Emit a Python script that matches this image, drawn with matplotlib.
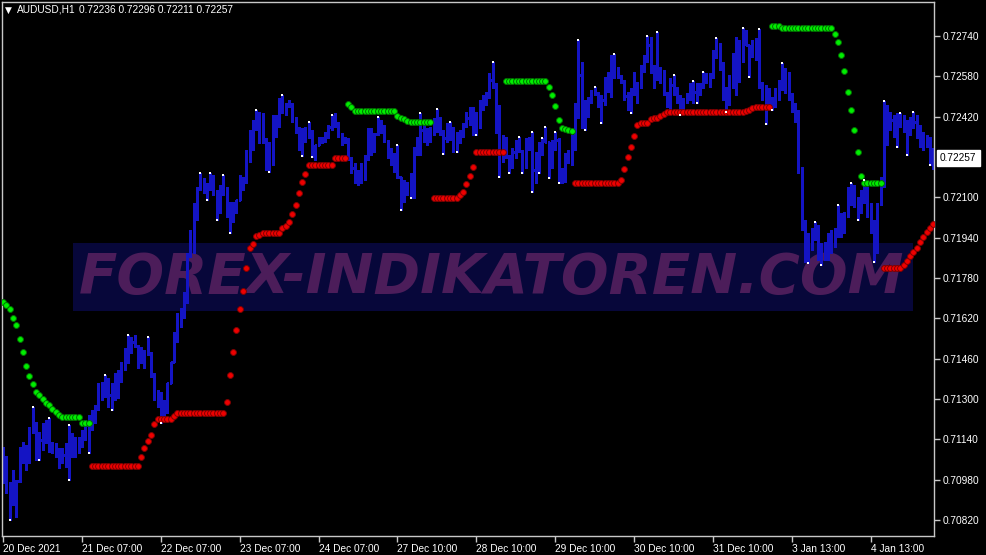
import matplotlib.pyplot as plt
from matplotlib.patches import Rectangle
from matplotlib.transforms import blended_transform_factory

plt.rcParams['font.family'] = ['Liberation Sans', 'DejaVu Sans']

# AUDUSD H1 bars
highs = [
    0.71108, 0.71073, 0.70969, 0.71017, 0.70977, 0.71108, 0.71128, 0.71116, 0.71188, 0.71267,
    0.71208, 0.71168, 0.71204, 0.71216, 0.71224, 0.71128, 0.71124, 0.71104, 0.71104, 0.71124,
    0.71196, 0.71164, 0.71148, 0.71148, 0.71176, 0.71216, 0.71235, 0.71255, 0.71275, 0.71362,
    0.71366, 0.71394, 0.71382, 0.71362, 0.71402, 0.71414, 0.71446, 0.71501, 0.71553, 0.71545,
    0.71553, 0.71513, 0.71505, 0.71494, 0.71545, 0.71486, 0.71402, 0.71335, 0.71327, 0.71295,
    0.71362, 0.71446, 0.71565, 0.71640, 0.71660, 0.71724, 0.71879, 0.71970, 0.72077, 0.72141,
    0.72196, 0.72176, 0.72156, 0.72196, 0.72188, 0.72129, 0.72149, 0.72188, 0.72141, 0.72081,
    0.72081, 0.72089, 0.72188, 0.72180, 0.72288, 0.72367, 0.72407, 0.72446, 0.72438, 0.72434,
    0.72335, 0.72319, 0.72426, 0.72426, 0.72494, 0.72506, 0.72474, 0.72486, 0.72474, 0.72419,
    0.72379, 0.72375, 0.72379, 0.72399, 0.72367, 0.72307, 0.72339, 0.72339, 0.72359, 0.72387,
    0.72426, 0.72434, 0.72399, 0.72355, 0.72339, 0.72335, 0.72260, 0.72236, 0.72208, 0.72236,
    0.72268, 0.72375, 0.72375, 0.72355, 0.72419, 0.72407, 0.72387, 0.72327, 0.72295, 0.72276,
    0.72307, 0.72180, 0.72168, 0.72160, 0.72196, 0.72299, 0.72339, 0.72434, 0.72395, 0.72375,
    0.72379, 0.72415, 0.72450, 0.72419, 0.72367, 0.72395, 0.72399, 0.72379, 0.72359, 0.72367,
    0.72395, 0.72438, 0.72458, 0.72458, 0.72438, 0.72486, 0.72506, 0.72518, 0.72593, 0.72637,
    0.72553, 0.72466, 0.72347, 0.72339, 0.72268, 0.72295, 0.72327, 0.72339, 0.72288, 0.72335,
    0.72339, 0.72359, 0.72280, 0.72319, 0.72335, 0.72379, 0.72319, 0.72327, 0.72359, 0.72335,
    0.72216, 0.72276, 0.72288, 0.72347, 0.72474, 0.72724, 0.72637, 0.72486, 0.72498, 0.72526,
    0.72538, 0.72518, 0.72506, 0.72577, 0.72597, 0.72665, 0.72669, 0.72617, 0.72585, 0.72565,
    0.72518, 0.72534, 0.72597, 0.72557, 0.72625, 0.72665, 0.72740, 0.72736, 0.72625, 0.72756,
    0.72617, 0.72605, 0.72518, 0.72573, 0.72585, 0.72538, 0.72506, 0.72494, 0.72514, 0.72553,
    0.72561, 0.72553, 0.72553, 0.72597, 0.72593, 0.72593, 0.72685, 0.72732, 0.72712, 0.72637,
    0.72538, 0.72585, 0.72673, 0.72736, 0.72724, 0.72772, 0.72764, 0.72704, 0.72724, 0.72732,
    0.72768, 0.72557, 0.72546, 0.72534, 0.72498, 0.72534, 0.72565, 0.72633, 0.72613, 0.72597,
    0.72514, 0.72474, 0.72446, 0.72220, 0.72010, 0.71958, 0.71978, 0.72002, 0.71990, 0.71918,
    0.71922, 0.71958, 0.71970, 0.71978, 0.72069, 0.72037, 0.72041, 0.72141, 0.72156, 0.72149,
    0.72101, 0.72129, 0.72168, 0.72141, 0.72077, 0.72010, 0.72077, 0.72180, 0.72482, 0.72466,
    0.72438, 0.72426, 0.72434, 0.72434, 0.72426, 0.72407, 0.72419, 0.72438, 0.72426, 0.72387,
    0.72359, 0.72347, 0.72339, 0.72296,
]
lows = [
    0.70965, 0.70926, 0.70819, 0.70878, 0.70831, 0.70969, 0.71045, 0.71017, 0.71045, 0.71164,
    0.71057, 0.71057, 0.71097, 0.71124, 0.71089, 0.71085, 0.71069, 0.71025, 0.71045, 0.71029,
    0.70977, 0.71069, 0.71069, 0.71085, 0.71108, 0.71136, 0.71085, 0.71176, 0.71204, 0.71255,
    0.71295, 0.71307, 0.71267, 0.71255, 0.71295, 0.71303, 0.71366, 0.71414, 0.71442, 0.71482,
    0.71505, 0.71422, 0.71442, 0.71422, 0.71474, 0.71386, 0.71295, 0.71267, 0.71204, 0.71216,
    0.71243, 0.71362, 0.71446, 0.71525, 0.71585, 0.71621, 0.71680, 0.71863, 0.71879, 0.72010,
    0.72129, 0.72117, 0.72089, 0.72129, 0.72109, 0.72010, 0.72037, 0.72109, 0.72022, 0.71958,
    0.72002, 0.72037, 0.72089, 0.72129, 0.72156, 0.72240, 0.72288, 0.72367, 0.72315, 0.72315,
    0.72208, 0.72200, 0.72228, 0.72339, 0.72379, 0.72434, 0.72426, 0.72458, 0.72399, 0.72355,
    0.72288, 0.72264, 0.72319, 0.72335, 0.72260, 0.72248, 0.72307, 0.72315, 0.72319, 0.72335,
    0.72367, 0.72379, 0.72339, 0.72307, 0.72315, 0.72248, 0.72196, 0.72156, 0.72149, 0.72156,
    0.72168, 0.72248, 0.72268, 0.72280, 0.72347, 0.72355, 0.72319, 0.72256, 0.72228, 0.72200,
    0.72176, 0.72049, 0.72081, 0.72109, 0.72097, 0.72097, 0.72268, 0.72268, 0.72319, 0.72307,
    0.72319, 0.72347, 0.72359, 0.72347, 0.72272, 0.72319, 0.72327, 0.72280, 0.72280, 0.72315,
    0.72339, 0.72379, 0.72387, 0.72347, 0.72347, 0.72375, 0.72446, 0.72466, 0.72494, 0.72534,
    0.72355, 0.72180, 0.72240, 0.72256, 0.72196, 0.72216, 0.72256, 0.72280, 0.72196, 0.72216,
    0.72288, 0.72121, 0.72156, 0.72196, 0.72268, 0.72319, 0.72176, 0.72216, 0.72288, 0.72156,
    0.72156, 0.72160, 0.72236, 0.72228, 0.72288, 0.72415, 0.72375, 0.72367, 0.72419, 0.72474,
    0.72506, 0.72458, 0.72395, 0.72466, 0.72518, 0.72498, 0.72573, 0.72573, 0.72553, 0.72486,
    0.72446, 0.72434, 0.72506, 0.72474, 0.72534, 0.72597, 0.72637, 0.72593, 0.72534, 0.72565,
    0.72553, 0.72506, 0.72458, 0.72438, 0.72506, 0.72474, 0.72426, 0.72446, 0.72474, 0.72486,
    0.72474, 0.72474, 0.72506, 0.72534, 0.72553, 0.72538, 0.72573, 0.72653, 0.72605, 0.72486,
    0.72438, 0.72466, 0.72534, 0.72506, 0.72557, 0.72637, 0.72704, 0.72577, 0.72657, 0.72645,
    0.72534, 0.72486, 0.72391, 0.72466, 0.72446, 0.72458, 0.72486, 0.72526, 0.72514, 0.72486,
    0.72438, 0.72399, 0.72196, 0.71970, 0.71843, 0.71839, 0.71891, 0.71930, 0.71851, 0.71831,
    0.71851, 0.71851, 0.71879, 0.71902, 0.71942, 0.71942, 0.71958, 0.72022, 0.72069, 0.72061,
    0.72010, 0.72037, 0.72077, 0.72022, 0.71958, 0.71843, 0.71879, 0.72069, 0.72141, 0.72307,
    0.72367, 0.72339, 0.72299, 0.72379, 0.72359, 0.72268, 0.72347, 0.72375, 0.72335, 0.72299,
    0.72288, 0.72299, 0.72228, 0.72211,
]
closes = [
    0.71017, 0.70946, 0.70918, 0.70938, 0.70973, 0.71089, 0.71077, 0.71097, 0.71176, 0.71188,
    0.71116, 0.71136, 0.71176, 0.71196, 0.71112, 0.71104, 0.71089, 0.71065, 0.71077, 0.71097,
    0.71116, 0.71104, 0.71116, 0.71136, 0.71156, 0.71196, 0.71216, 0.71235, 0.71267, 0.71335,
    0.71343, 0.71355, 0.71315, 0.71335, 0.71355, 0.71394, 0.71434, 0.71486, 0.71513, 0.71525,
    0.71509, 0.71474, 0.71470, 0.71486, 0.71478, 0.71394, 0.71315, 0.71295, 0.71255, 0.71275,
    0.71362, 0.71446, 0.71549, 0.71621, 0.71644, 0.71708, 0.71871, 0.71950, 0.72049, 0.72137,
    0.72156, 0.72137, 0.72145, 0.72168, 0.72121, 0.72069, 0.72129, 0.72129, 0.72049, 0.72029,
    0.72057, 0.72089, 0.72156, 0.72168, 0.72268, 0.72335, 0.72387, 0.72415, 0.72387, 0.72327,
    0.72256, 0.72288, 0.72387, 0.72407, 0.72466, 0.72454, 0.72466, 0.72466, 0.72407, 0.72367,
    0.72327, 0.72347, 0.72367, 0.72351, 0.72288, 0.72307, 0.72327, 0.72331, 0.72351, 0.72379,
    0.72407, 0.72387, 0.72347, 0.72327, 0.72327, 0.72256, 0.72216, 0.72180, 0.72188, 0.72208,
    0.72260, 0.72327, 0.72307, 0.72351, 0.72387, 0.72367, 0.72323, 0.72276, 0.72248, 0.72240,
    0.72180, 0.72109, 0.72137, 0.72129, 0.72149, 0.72288, 0.72307, 0.72367, 0.72347, 0.72343,
    0.72367, 0.72399, 0.72387, 0.72359, 0.72335, 0.72367, 0.72347, 0.72307, 0.72335, 0.72355,
    0.72387, 0.72415, 0.72426, 0.72387, 0.72426, 0.72466, 0.72486, 0.72506, 0.72565, 0.72546,
    0.72446, 0.72288, 0.72307, 0.72260, 0.72240, 0.72280, 0.72307, 0.72284, 0.72248, 0.72319,
    0.72307, 0.72208, 0.72248, 0.72295, 0.72327, 0.72319, 0.72248, 0.72307, 0.72327, 0.72188,
    0.72200, 0.72256, 0.72268, 0.72327, 0.72454, 0.72585, 0.72426, 0.72466, 0.72486, 0.72518,
    0.72510, 0.72486, 0.72486, 0.72557, 0.72546, 0.72625, 0.72597, 0.72577, 0.72557, 0.72502,
    0.72486, 0.72526, 0.72534, 0.72546, 0.72613, 0.72653, 0.72704, 0.72605, 0.72597, 0.72585,
    0.72573, 0.72510, 0.72486, 0.72546, 0.72518, 0.72486, 0.72466, 0.72486, 0.72506, 0.72526,
    0.72518, 0.72526, 0.72546, 0.72573, 0.72565, 0.72585, 0.72669, 0.72692, 0.72625, 0.72506,
    0.72494, 0.72565, 0.72625, 0.72665, 0.72685, 0.72732, 0.72704, 0.72677, 0.72692, 0.72704,
    0.72546, 0.72518, 0.72494, 0.72478, 0.72486, 0.72518, 0.72546, 0.72585, 0.72565, 0.72502,
    0.72454, 0.72426, 0.72208, 0.71990, 0.71910, 0.71930, 0.71962, 0.71970, 0.71891, 0.71883,
    0.71898, 0.71930, 0.71938, 0.71962, 0.72010, 0.71990, 0.72033, 0.72109, 0.72109, 0.72081,
    0.72069, 0.72109, 0.72109, 0.72049, 0.71978, 0.71930, 0.72073, 0.72160, 0.72407, 0.72387,
    0.72407, 0.72367, 0.72415, 0.72399, 0.72387, 0.72367, 0.72407, 0.72399, 0.72359, 0.72327,
    0.72319, 0.72327, 0.72236, 0.72257,
]
first_open = 0.71009
# an H1 bar opens where the previous one closed
opens = [first_open] + closes[:-1]

# trailing stop dots: (first bar, values)
green_segments = [
    (0, [0.71684, 0.71672, 0.71656, 0.71621, 0.71593, 0.71537, 0.71486, 0.71430, 0.71390,
         0.71359, 0.71327, 0.71315, 0.71299, 0.71283, 0.71275, 0.71259, 0.71247, 0.71235,
         0.71228, 0.71228, 0.71228, 0.71228, 0.71228, 0.71228, 0.71204, 0.71204, 0.71204]),
    (105, [0.72470, 0.72458, 0.72442, 0.72442, 0.72442, 0.72442, 0.72442, 0.72442, 0.72442,
           0.72442, 0.72442, 0.72442, 0.72442, 0.72442, 0.72442, 0.72422, 0.72415, 0.72411,
           0.72403, 0.72399, 0.72399, 0.72399, 0.72399, 0.72399, 0.72399, 0.72399]),
    (153, [0.72561, 0.72561, 0.72561, 0.72561, 0.72561, 0.72561, 0.72561, 0.72561, 0.72561,
           0.72561, 0.72561, 0.72561, 0.72561, 0.72538, 0.72506, 0.72462, 0.72407, 0.72375,
           0.72371, 0.72367, 0.72363]),
    (234, [0.72780, 0.72780, 0.72780, 0.72772, 0.72772, 0.72772, 0.72772, 0.72772, 0.72772,
           0.72772, 0.72772, 0.72772, 0.72772, 0.72772, 0.72772, 0.72772, 0.72772, 0.72772,
           0.72772, 0.72748, 0.72716, 0.72665, 0.72601, 0.72518, 0.72446, 0.72367, 0.72280,
           0.72184, 0.72156, 0.72156, 0.72156, 0.72156, 0.72156, 0.72156]),
]
red_segments = [
    (27, [0.71033, 0.71033, 0.71033, 0.71033, 0.71033, 0.71033, 0.71033, 0.71033, 0.71033,
          0.71033, 0.71033, 0.71033, 0.71033, 0.71033, 0.71033, 0.71069, 0.71104, 0.71132,
          0.71156, 0.71200, 0.71220, 0.71220, 0.71220, 0.71220, 0.71220, 0.71231, 0.71243,
          0.71243, 0.71243, 0.71243, 0.71243, 0.71243, 0.71243, 0.71243, 0.71243, 0.71243,
          0.71243, 0.71243, 0.71243, 0.71243, 0.71243, 0.71287, 0.71394, 0.71486, 0.71573,
          0.71656, 0.71728, 0.71819, 0.71898, 0.71914, 0.71946, 0.71950, 0.71958, 0.71958,
          0.71958, 0.71958, 0.71958, 0.71958, 0.71978, 0.71986, 0.72002, 0.72033, 0.72069,
          0.72117, 0.72160, 0.72192, 0.72228, 0.72228, 0.72228, 0.72228, 0.72228, 0.72228,
          0.72228, 0.72228, 0.72256, 0.72256, 0.72256, 0.72256]),
    (131, [0.72097, 0.72097, 0.72097, 0.72097, 0.72097, 0.72097, 0.72097, 0.72097, 0.72109,
           0.72121, 0.72153, 0.72184, 0.72220, 0.72280, 0.72280, 0.72280, 0.72280, 0.72280,
           0.72280, 0.72280, 0.72280, 0.72280]),
    (174, [0.72156, 0.72156, 0.72156, 0.72156, 0.72156, 0.72156, 0.72156, 0.72156, 0.72156,
           0.72156, 0.72156, 0.72156, 0.72156, 0.72156, 0.72168, 0.72212, 0.72260, 0.72299,
           0.72343, 0.72387, 0.72395, 0.72395, 0.72395, 0.72411, 0.72415, 0.72415, 0.72422,
           0.72430, 0.72438, 0.72438, 0.72438, 0.72438, 0.72438, 0.72438, 0.72438, 0.72438,
           0.72438, 0.72438, 0.72438, 0.72438, 0.72438, 0.72438, 0.72438, 0.72438, 0.72438,
           0.72438, 0.72438, 0.72438, 0.72438, 0.72438, 0.72438, 0.72438, 0.72442, 0.72446,
           0.72454, 0.72458, 0.72458, 0.72458, 0.72458, 0.72458]),
    (268, [0.71819, 0.71819, 0.71819, 0.71819, 0.71819, 0.71819, 0.71831, 0.71847, 0.71867,
           0.71883, 0.71898, 0.71922, 0.71942, 0.71962, 0.71978, 0.71994]),
]

# small white marks at swing highs / lows
mark_high = [9, 14, 20, 31, 38, 44, 60, 63, 67, 77, 85, 93, 100, 114, 120, 127, 132, 136,
             149, 157, 161, 164, 165, 168, 175, 180, 186, 196, 199, 204, 210, 213, 217, 225,
             230, 237, 247, 254, 258, 262, 268, 273, 277]
mark_low = [2, 11, 20, 26, 33, 48, 62, 65, 69, 81, 91, 94, 121, 124, 134, 138, 144, 151,
            154, 158, 161, 163, 166, 169, 177, 182, 191, 206, 211, 220, 227, 232, 234, 245,
            249, 260, 265, 272, 275, 282]

time_ticks = [0, 24, 48, 72, 96, 120, 144, 168, 192, 216, 240, 264]
time_labels = ['20 Dec 2021', '21 Dec 07:00', '22 Dec 07:00', '23 Dec 07:00', '24 Dec 07:00',
               '27 Dec 10:00', '28 Dec 10:00', '29 Dec 10:00', '30 Dec 10:00', '31 Dec 10:00',
               '3 Jan 13:00', '4 Jan 13:00']
price_ticks = [0.70820, 0.70980, 0.71140, 0.71300, 0.71460, 0.71620, 0.71780, 0.71940,
               0.72100, 0.72420, 0.72580, 0.72740]
symbol = 'AUDUSD,H1'
watermark = 'FOREX-INDIKATOREN.COM'

assert len(highs) == len(lows) == len(closes)

W, H = 987, 555
fig = plt.figure(figsize=(W / 100, H / 100), dpi=100, facecolor='black')
ax = fig.add_axes([2 / W, 19 / H, 932 / W, 534 / H])
ax.set_facecolor('black')

fg = '#c8c8c8'
bar_col = '#1414c4'

# watermark sits under the bars
ax.add_patch(Rectangle((73 / W, (H - 311) / H), 840 / W, 68 / H, transform=fig.transFigure,
                       facecolor='#07073a', edgecolor='none', zorder=0.5))
wm = ax.text(492 / W, (H - 278) / H, watermark, transform=fig.transFigure, ha='center',
             va='center', fontsize=40, fontweight='bold', fontstyle='italic',
             family='DejaVu Sans', color='#4c1d5a', zorder=0.6)
fig.canvas.draw()
ext = wm.get_window_extent()
wm.set_fontsize(40 * 825 / ext.width)

xs = list(range(len(highs)))
ax.vlines(xs, lows, highs, color=bar_col, lw=1.0, antialiased=False, zorder=2)
ax.hlines(opens, [x - 0.32 for x in xs], xs, color=bar_col, lw=1.0, antialiased=False, zorder=2)
ax.hlines(closes, xs, [x + 0.32 for x in xs], color=bar_col, lw=1.0, antialiased=False, zorder=2)

for start, vals in green_segments:
    ax.plot(range(start, start + len(vals)), vals, 'o', ms=4.2, mfc='#00ee00',
            mec='#007000', mew=0.7, zorder=3)
for start, vals in red_segments:
    ax.plot(range(start, start + len(vals)), vals, 'o', ms=4.2, mfc='#ee0000',
            mec='#800000', mew=0.7, zorder=3)

ax.plot(mark_high, [highs[i] for i in mark_high], 's', ms=1.6, color='white', mew=0, zorder=4)
ax.plot(mark_low, [lows[i] for i in mark_low], 's', ms=1.6, color='white', mew=0, zorder=4)

ax.set_xlim(-0.33, 283.25)
ax.set_ylim(0.707565, 0.72875)

for s in ax.spines.values():
    s.set_color(fg)
    s.set_linewidth(1)

ax.yaxis.tick_right()
ax.set_yticks(price_ticks)
ax.set_yticklabels([f'{p:.5f}' for p in price_ticks])
ax.set_xticks(time_ticks)
ax.set_xticklabels(time_labels)
for lab in ax.get_xticklabels():
    lab.set_horizontalalignment('left')
ax.tick_params(axis='both', direction='out', length=4, width=1, color=fg,
               labelcolor='white', labelsize=7.3)
ax.tick_params(axis='y', pad=2)
ax.tick_params(axis='x', pad=1.5)

# header
fig.text(5 / W, (H - 10) / H, '\u25bc', color='white', fontsize=6.5, va='center',
         family='DejaVu Sans')
fig.text(17 / W, (H - 10) / H, symbol, color='white', fontsize=7.3, va='center')
fig.text(79 / W, (H - 10) / H,
         f'{opens[-1]:.5f} {highs[-1]:.5f} {lows[-1]:.5f} {closes[-1]:.5f}',
         color='white', fontsize=7.3, va='center')

# last price box on the price scale
tr = blended_transform_factory(ax.transAxes, ax.transData)
ax.text(1 + 6 / 932, closes[-1], f'{closes[-1]:.5f}', transform=tr, ha='left', va='center',
        color='black', fontsize=7.3, clip_on=False,
        bbox=dict(boxstyle='square,pad=0.3', fc='white', ec='white'))

fig.savefig('out.png', dpi=100, facecolor='black')
